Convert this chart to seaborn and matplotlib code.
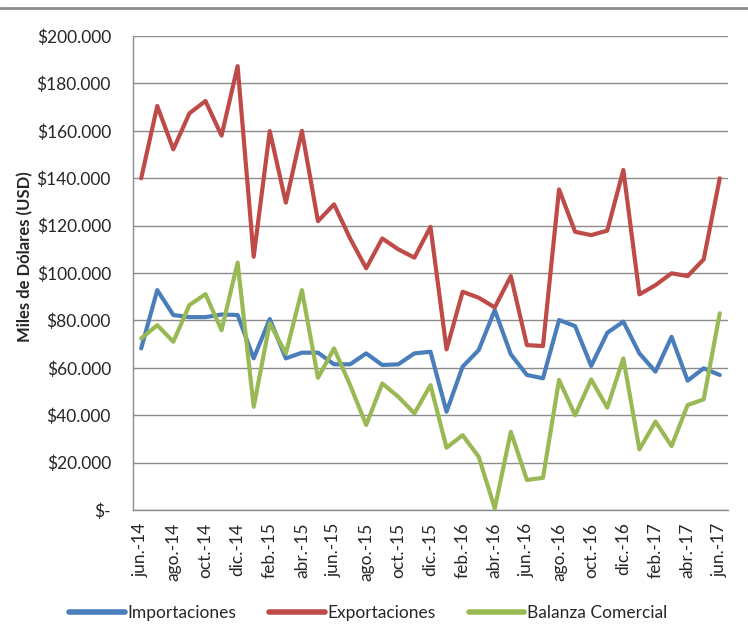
import matplotlib
matplotlib.use("Agg")
import matplotlib.pyplot as plt
from matplotlib.lines import Line2D
import seaborn as sns
import pandas as pd
import numpy as np

# months jun.-14 .. jun.-17
meses = ["jun", "jul", "ago", "sep", "oct", "nov", "dic", "ene", "feb", "mar", "abr", "may"]
periodos = []
for k in range(37):
    anio = 14 + (5 + k) // 12
    periodos.append(f"{meses[k % 12]}.-{anio}")

importaciones = [68.2, 92.8, 82.3, 81.4, 81.4, 82.5, 82.3, 64.0, 80.6, 64.0,
                 66.4, 66.4, 61.5, 61.5, 66.1, 61.2, 61.5, 66.1, 66.8, 41.5,
                 60.5, 67.5, 84.4, 65.7, 57.0, 55.6, 80.2, 77.6, 60.8, 74.8,
                 79.5, 66.1, 58.4, 73.1, 54.6, 59.8, 57.0]
exportaciones = [140.0, 170.5, 152.2, 167.4, 172.6, 158.0, 187.3, 106.9, 159.9, 129.7,
                 160.0, 121.9, 129.0, 114.6, 102.0, 114.6, 110.0, 106.5, 119.5, 67.8,
                 92.1, 89.6, 85.5, 98.7, 69.6, 69.2, 135.3, 117.4, 116.0, 117.9,
                 143.5, 91.0, 94.9, 99.9, 98.7, 105.8, 140.0]
balanza = [72.4, 78.0, 71.0, 86.5, 91.1, 75.9, 104.4, 43.6, 78.8, 66.1,
           92.8, 55.8, 68.2, 52.7, 35.9, 53.4, 47.8, 40.8, 52.7, 26.3,
           31.6, 22.5, 0.7, 33.0, 12.7, 13.6, 54.9, 40.0, 55.1, 43.2,
           64.0, 25.6, 37.3, 27.0, 44.3, 46.7, 83.0]

series = ["Importaciones", "Exportaciones", "Balanza Comercial"]
colores = ["#4a7ebb", "#be4b48", "#98b954"]

df = pd.DataFrame({
    "idx": list(range(37)) * 3,
    "valor": [v * 1000 for v in importaciones + exportaciones + balanza],
    "serie": [s for s in series for _ in range(37)],
})

sns.set_style("white")
plt.rcParams["font.family"] = ["Lato", "DejaVu Sans"]

fig = plt.figure(figsize=(7.48, 6.44), dpi=100)
ax = fig.add_axes([0.178, 0.208, 0.795, 0.736])

sns.lineplot(data=df, x="idx", y="valor", hue="serie", palette=colores,
             hue_order=series, linewidth=3, ax=ax, legend=False, zorder=3)

ax.set_xlim(-0.5, 36.5)
ax.set_ylim(0, 200000)
ax.set_yticks(np.arange(0, 200001, 20000))
ax.set_yticklabels(["$-"] + [f"${int(v/1000)}.000" for v in range(20000, 200001, 20000)],
                   fontsize=12.5)
ax.set_xticks(range(0, 37, 2))
ax.set_xticklabels([periodos[i] for i in range(0, 37, 2)], rotation=90, fontsize=12.5)
ax.tick_params(axis="y", length=0, pad=16)
ax.tick_params(axis="x", length=0, pad=9)
ax.grid(axis="y", color="#8c8c8c", linewidth=1)
ax.set_axisbelow(True)
for s in ["top", "right"]:
    ax.spines[s].set_visible(False)
for s in ["left", "bottom"]:
    ax.spines[s].set_color("#8c8c8c")
    ax.spines[s].set_linewidth(1)
ax.set_xlabel("")
ax.set_ylabel("Miles de Dólares (USD)", fontsize=12, fontweight="bold")
ax.yaxis.set_label_coords(-0.168, 0.535)

handles = [Line2D([0], [0], color=c, lw=4) for c in colores]
fig.legend(handles, series, loc="center", bbox_to_anchor=(0.492, 0.048), ncol=3,
           frameon=False, fontsize=12.5, handlelength=3.2, handletextpad=0.15,
           columnspacing=1.9)

fig.add_artist(Line2D([0, 1], [0.987, 0.987], color="#8c8c8c", lw=2,
                      transform=fig.transFigure))

fig.savefig("out.png", dpi=100)
